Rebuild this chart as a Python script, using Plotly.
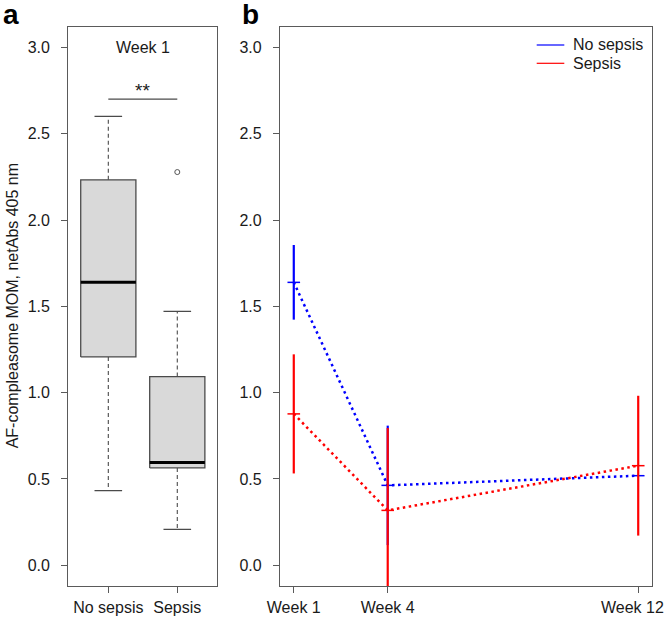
import plotly.graph_objects as go

W, H = 666, 621

# ---------- data ----------
# Panel a: week 1 box-plot statistics
box_groups = ["No sepsis", "Sepsis"]
box_pos = [1, 2]
box_lower_whisker = [0.432, 0.208]
box_q1 = [1.207, 0.564]
box_median = [1.639, 0.596]
box_q3 = [2.233, 1.093]
box_upper_whisker = [2.600, 1.471]
outlier_group = [2]
outlier_value = [2.278]
sig_y = 2.70
sig_label = "**"
panel_a_title = "Week 1"

# Panel b: means and error half-widths over time
weeks = [1, 4, 12]
week_labels = ["Week 1", "Week 4", "Week 12"]
no_sepsis_mean = [1.639, 0.463, 0.519]
no_sepsis_err = [0.216, 0.346, 0.0]
sepsis_mean = [0.877, 0.318, 0.577]
sepsis_err = [0.345, 0.477, 0.405]
legend_names = ["No sepsis", "Sepsis"]
legend_colors = ["blue", "red"]

y_ticks = [0.0, 0.5, 1.0, 1.5, 2.0, 2.5, 3.0]
y_title = "AF-compleasome MOM, netAbs 405 nm"

# ---------- style ----------
FONT = "Liberation Sans, Arial, Helvetica, sans-serif"
FRAME = "#5a5a5a"
TXT = "#1a1a1a"
BOXFILL = "#d9d9d9"
BOXLINE = "#4a4a4a"
half_box = 0.4
half_cap = 0.2

fig = go.Figure()

# ---------- panel a ----------
for i, x in enumerate(box_pos):
    fig.add_trace(go.Scatter(
        x=[x - half_box, x + half_box, x + half_box, x - half_box, x - half_box],
        y=[box_q1[i], box_q1[i], box_q3[i], box_q3[i], box_q1[i]],
        mode="lines", fill="toself", fillcolor=BOXFILL,
        line=dict(color=BOXLINE, width=1.3), showlegend=False, hoverinfo="skip",
        xaxis="x", yaxis="y"))
    fig.add_trace(go.Scatter(
        x=[x, x, None, x, x],
        y=[box_q3[i], box_upper_whisker[i], None, box_q1[i], box_lower_whisker[i]],
        mode="lines", line=dict(color=BOXLINE, width=1.1, dash="4px,3px"),
        showlegend=False, hoverinfo="skip", xaxis="x", yaxis="y"))
    fig.add_trace(go.Scatter(
        x=[x - half_cap, x + half_cap, None, x - half_cap, x + half_cap],
        y=[box_upper_whisker[i], box_upper_whisker[i], None,
           box_lower_whisker[i], box_lower_whisker[i]],
        mode="lines", line=dict(color=BOXLINE, width=1.3),
        showlegend=False, hoverinfo="skip", xaxis="x", yaxis="y"))
    fig.add_trace(go.Scatter(
        x=[x - half_box, x + half_box], y=[box_median[i], box_median[i]],
        mode="lines", line=dict(color="black", width=3),
        showlegend=False, hoverinfo="skip", xaxis="x", yaxis="y"))

fig.add_trace(go.Scatter(
    x=outlier_group, y=outlier_value, mode="markers",
    marker=dict(symbol="circle-open", size=5, color="#555555", line=dict(width=1)),
    showlegend=False, hoverinfo="skip", xaxis="x", yaxis="y"))

fig.add_trace(go.Scatter(
    x=[box_pos[0], box_pos[1]], y=[sig_y, sig_y], mode="lines",
    line=dict(color=BOXLINE, width=1.2), showlegend=False, hoverinfo="skip",
    xaxis="x", yaxis="y"))

# ---------- panel b ----------
for mean, err, col in [(no_sepsis_mean, no_sepsis_err, legend_colors[0]),
                       (sepsis_mean, sepsis_err, legend_colors[1])]:
    fig.add_trace(go.Scatter(
        x=weeks, y=mean, mode="lines+markers",
        line=dict(color=col, width=2.5, dash="2.5px,3.5px"),
        marker=dict(symbol="line-ew-open", size=9, color=col, line=dict(color=col, width=1.5)),
        error_y=dict(type="data", array=err, visible=True, color=col, thickness=2.2, width=0),
        showlegend=False, hoverinfo="skip", xaxis="x2", yaxis="y2"))

# ---------- manual legend (R-style, no box) ----------
shapes = []
annotations = []
leg_rows_px = [45, 63.3]
for name, col, ypx in zip(legend_names, legend_colors, leg_rows_px):
    yp = 1 - ypx / H
    shapes.append(dict(type="line", xref="paper", yref="paper",
                       x0=536.7 / W, x1=564.3 / W, y0=yp, y1=yp,
                       line=dict(color=col, width=1.2)))
    annotations.append(dict(text=name, x=570.5 / W, y=yp, xref="paper", yref="paper",
                            xanchor="left", yanchor="middle", showarrow=False,
                            font=dict(family=FONT, size=16, color=TXT)))

# ---------- layout ----------
xa_dom = [68.3 / W, 217.3 / W]
xb_dom = [280 / W, 652 / W]
y_dom = [1 - 586 / H, 1 - 26.7 / H]
y_range = [-0.12, 3.12]

axis_common = dict(showline=True, mirror=True, linecolor=FRAME, linewidth=1.3,
                   ticks="outside", ticklen=6, tickcolor=FRAME, tickwidth=1.1,
                   showgrid=False, zeroline=False, automargin=False,
                   ticklabeloverflow="allow",
                   tickfont=dict(family=FONT, size=16, color=TXT))

# last week label would overflow the page edge: keep it inside, right-aligned
b_ticktext = week_labels[:-1] + [""]
annotations.append(dict(text=week_labels[-1], x=weeks[-1], y=0, xref="x2", yref="paper",
                        xanchor="right", yanchor="middle", xshift=28,
                        yshift=-(606.7 - (H - 1)), showarrow=False,
                        font=dict(family=FONT, size=16, color=TXT)))

annotations += [
    dict(text="a", x=1 / W, y=1 + 3 / H, xref="paper", yref="paper",
         xanchor="left", yanchor="top", showarrow=False,
         font=dict(family=FONT, size=28, color="black", weight="bold")),
    dict(text="b", x=240 / W, y=1 + 3 / H, xref="paper", yref="paper",
         xanchor="left", yanchor="top", showarrow=False,
         font=dict(family=FONT, size=28, color="black", weight="bold")),
    dict(text=panel_a_title, x=1.5, y=3.0, xref="x", yref="y",
         xanchor="center", yanchor="middle", showarrow=False,
         font=dict(family=FONT, size=16, color=TXT)),
    dict(text=sig_label, x=1.5, y=sig_y, xref="x", yref="y",
         xanchor="center", yanchor="bottom", showarrow=False, yshift=-4,
         font=dict(family=FONT, size=19, color=TXT)),
    dict(text=y_title, x=12 / W, y=(y_dom[0] + y_dom[1]) / 2, xref="paper", yref="paper",
         xanchor="center", yanchor="middle", textangle=-90, showarrow=False,
         font=dict(family=FONT, size=16, color=TXT)),
]

fig.update_layout(
    width=W, height=H,
    margin=dict(l=0, r=0, t=0, b=0, autoexpand=False),
    paper_bgcolor="white", plot_bgcolor="white",
    font=dict(family=FONT, size=16, color=TXT),
    showlegend=False,
    xaxis=dict(domain=xa_dom, range=[0.42, 2.58], tickvals=box_pos, ticktext=box_groups,
               anchor="y", ticklabelstandoff=1, **axis_common),
    yaxis=dict(domain=y_dom, range=y_range, tickvals=y_ticks,
               ticktext=[f"{v:.1f}" for v in y_ticks], anchor="x",
               ticklabelstandoff=8, **axis_common),
    xaxis2=dict(domain=xb_dom, range=[0.56, 12.44], tickvals=weeks, ticktext=b_ticktext,
                anchor="y2", ticklabelstandoff=1, **axis_common),
    yaxis2=dict(domain=y_dom, range=y_range, tickvals=y_ticks,
                ticktext=[f"{v:.1f}" for v in y_ticks], anchor="x2",
                ticklabelstandoff=8, **axis_common),
    shapes=shapes,
    annotations=annotations,
)

fig.write_html("out.html", config={"displayModeBar": False},
               post_script="document.body.style.margin='0';")
